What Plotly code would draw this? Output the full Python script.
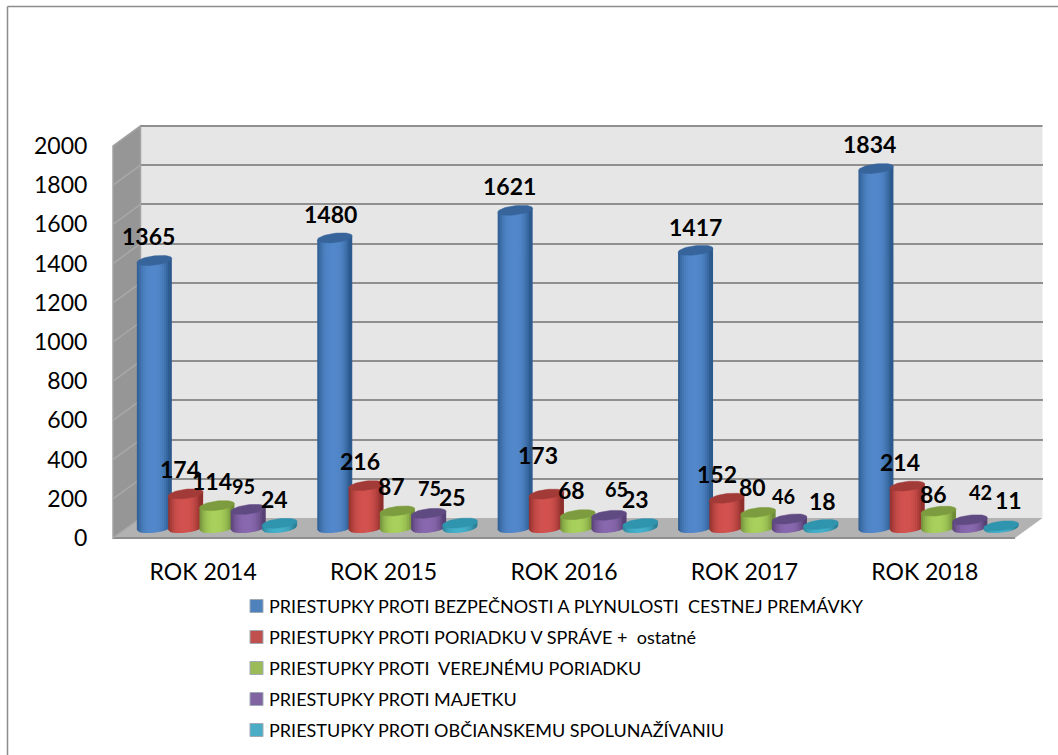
import math
import plotly.graph_objects as go

# ---------- data ----------
YEARS = ["ROK 2014", "ROK 2015", "ROK 2016", "ROK 2017", "ROK 2018"]
SERIES_NAMES = [
    "PRIESTUPKY PROTI BEZPEČNOSTI A PLYNULOSTI\u00a0 CESTNEJ PREMÁVKY",
    "PRIESTUPKY PROTI PORIADKU V SPRÁVE +\u00a0 ostatné",
    "PRIESTUPKY PROTI\u00a0 VEREJNÉMU PORIADKU",
    "PRIESTUPKY PROTI MAJETKU",
    "PRIESTUPKY PROTI OBČIANSKEMU SPOLUNAŽÍVANIU",
]
BEZPECNOST = [1365, 1480, 1621, 1417, 1834]
PORIADOK_SPRAVA = [174, 216, 173, 152, 214]
VEREJNY_PORIADOK = [114, 87, 68, 80, 86]
MAJETOK = [95, 75, 65, 46, 42]
SPOLUNAZIVANIE = [24, 25, 23, 18, 11]
ALL_SERIES = [BEZPECNOST, PORIADOK_SPRAVA, VEREJNY_PORIADOK, MAJETOK, SPOLUNAZIVANIE]
Y_TICKS = list(range(0, 2001, 200))

# ---------- styling / layout ----------
W, H = 1058, 755
COL_CENTER = ["#5288cb", "#d2524f", "#a8d05c", "#8868ae", "#45b0ca"]
COL_EDGE = ["#2d5a8e", "#8e2f2c", "#6f8c38", "#574073", "#2a8198"]
COL_CAP = ["#36649b", "#a23b38", "#7c9c3f", "#604a82", "#2f94ae"]
COL_SWATCH = ["#4f81bd", "#c0504d", "#9bbb59", "#8064a2", "#4bacc6"]

# manually placed data-label centres in the original chart (pixels), per series / year
LABEL_PX = [
    [(148, 236), (330, 214), (509, 186), (695, 227), (869, 144)],
    [(180, 469), (360, 461), (538, 455), (717, 474), (900, 462)],
    [(212, 481), (391, 486), (571, 490), (752, 487), (934, 494)],
    [(243, 486), (430, 488), (616, 489), (783, 496), (980, 492)],
    [(274, 499), (453, 497), (635, 499), (822, 501), (1009, 500)],
]
LABEL_SIZE = [
    [23, 23, 23, 23, 23],
    [23, 23, 23, 23, 23],
    [23, 23, 23, 23, 23],
    [20, 20, 20, 20, 20],
    [23, 23, 23, 23, 23],
]

FRONT_L, FRONT_R, FRONT_T, FRONT_B = 113, 1015, 146, 538
DX, DY = 27.5, 20
PX_PER_UNIT = (FRONT_B - FRONT_T) / 2000
CAT_W = (FRONT_R - FRONT_L) / 5
SER_STEP = 31.3
RX, RY, TILT = 17.5, 4.6, 2.0
BAR_ZERO = 528
BAR_T, BAR_B = 100, 565


def px(x):
    return x / W


def py(y):
    return 1 - y / H


fig = go.Figure()

# Back-wall grid (primary axes), drawn first
fig.add_trace(go.Scatter(x=[0], y=[0], xaxis="x", yaxis="y", mode="markers",
                         marker=dict(opacity=0), showlegend=False, hoverinfo="skip"))
# Front-plane axes with the tick labels
fig.add_trace(go.Scatter(x=[0], y=[0], xaxis="x2", yaxis="y2", mode="markers",
                         marker=dict(opacity=0), showlegend=False, hoverinfo="skip"))

# Cylinders (third axes)
N_STRIPS = 18


def strip_color(c1, c2, t):
    a = [int(c1[i:i + 2], 16) for i in (1, 3, 5)]
    b = [int(c2[i:i + 2], 16) for i in (1, 3, 5)]
    return "rgb(%d,%d,%d)" % tuple(round(a[k] + (b[k] - a[k]) * t) for k in range(3))


for s, values in enumerate(ALL_SERIES):
    xoff = (s - 2) * SER_STEP / CAT_W
    for k in range(N_STRIPS):
        u1 = -1 + 2 * k / N_STRIPS
        u2 = -1 + 2 * (k + 1) / N_STRIPS
        um = (u1 + u2) / 2
        t = 1 - min(1, abs(um + 0.08) / 0.92) ** 2.6
        xs, ys = [], []
        ue = min(1, u2 + 0.05)
        for g, v in enumerate(values):
            cx = g + xoff
            yb = lambda u: (TILT * u - RY * math.sqrt(max(0, 1 - u * u))) / PX_PER_UNIT
            yt = lambda u: v + TILT * u / PX_PER_UNIT
            xs += [cx + u1 * RX / CAT_W, cx + ue * RX / CAT_W, cx + ue * RX / CAT_W, cx + u1 * RX / CAT_W, cx + u1 * RX / CAT_W, None]
            ys += [yb(u1), yb(ue), yt(ue), yt(u1), yb(u1), None]
        fig.add_trace(go.Scatter(x=xs, y=ys, xaxis="x3", yaxis="y3", mode="lines", fill="toself",
                                 fillcolor=strip_color(COL_EDGE[s], COL_CENTER[s], t),
                                 line=dict(width=0), showlegend=False, hoverinfo="skip",
                                 name=SERIES_NAMES[s]))
    # caps
    xs, ys = [], []
    for g, v in enumerate(values):
        cx = g + xoff
        for i in range(49):
            a = 2 * math.pi * i / 48
            u, w = math.cos(a), math.sin(a)
            xs.append(cx + u * RX / CAT_W)
            ys.append(v + (TILT * u + RY * w) / PX_PER_UNIT)
        xs.append(None)
        ys.append(None)
    fig.add_trace(go.Scatter(x=xs, y=ys, xaxis="x3", yaxis="y3", mode="lines", fill="toself",
                             fillcolor=COL_CAP[s], line=dict(width=0.5, color=COL_CAP[s]),
                             showlegend=False, hoverinfo="skip", name=SERIES_NAMES[s]))


def poly(points, fill, line=None, lw=0):
    d = "M " + " L ".join(f"{px(a):.5f},{py(b):.5f}" for a, b in points) + " Z"
    return dict(type="path", path=d, xref="paper", yref="paper", layer="below",
                fillcolor=fill, line=dict(color=line or fill, width=lw))


def seg(a, b, c, d, color="#8c8c8c", lw=1.5):
    return dict(type="line", x0=px(a), y0=py(b), x1=px(c), y1=py(d), xref="paper", yref="paper",
                layer="below", line=dict(color=color, width=lw))


shapes = [
    seg(7.5, 6.5, 1058, 6.5),
    seg(7.5, 6.5, 7.5, 755),
    poly([(FRONT_L + DX, FRONT_T - DY), (FRONT_R + DX, FRONT_T - DY),
          (FRONT_R + DX, FRONT_B - DY), (FRONT_L + DX, FRONT_B - DY)], "#e6e6e6"),
    poly([(FRONT_L, FRONT_T), (FRONT_L + DX, FRONT_T - DY),
          (FRONT_L + DX, FRONT_B - DY), (FRONT_L, FRONT_B)], "#969696", "#a3a3a3", 1.5),
    poly([(FRONT_L, FRONT_B), (FRONT_R, FRONT_B), (FRONT_R + DX, FRONT_B - DY),
          (FRONT_L + DX, FRONT_B - DY)], "#b2b2b2"),
    seg(FRONT_L, FRONT_B, FRONT_R, FRONT_B, "#8e8e8e", 2),
    seg(FRONT_L + DX, FRONT_T - DY, FRONT_R + DX, FRONT_T - DY, "#8f8f8f", 2),
    seg(FRONT_L, FRONT_T, FRONT_L + DX, FRONT_T - DY, "#a3a3a3", 1.5),
]
for tick in Y_TICKS[:-1]:
    yy = FRONT_B - tick * PX_PER_UNIT
    shapes.append(seg(FRONT_L, yy, FRONT_L + DX, yy - DY, "#a8a8a8", 1.5))

annotations = []
for s, values in enumerate(ALL_SERIES):
    xoff = (s - 2) * SER_STEP / CAT_W
    for g, v in enumerate(values):
        anchor_x = FRONT_L + DX / 2 + CAT_W * (g + 0.5) + (s - 2) * SER_STEP
        anchor_y = BAR_ZERO - v * PX_PER_UNIT
        tx, ty = LABEL_PX[s][g]
        annotations.append(dict(x=g + xoff, y=v, xref="x3", yref="y3", text=str(v), showarrow=False,
                                xanchor="center", yanchor="middle",
                                xshift=tx - anchor_x, yshift=anchor_y - ty,
                                font=dict(family="Lato", size=LABEL_SIZE[s][g], color="black", weight="bold")))

# legend
LEG_Y0, LEG_STEP = 606, 31
for s, name in enumerate(SERIES_NAMES):
    y = LEG_Y0 + s * LEG_STEP
    shapes.append(dict(type="rect", xref="paper", yref="paper", layer="below",
                       x0=px(250), x1=px(263), y0=py(y + 6.5), y1=py(y - 6.5),
                       fillcolor=COL_SWATCH[s], line=dict(color="#a0aab4", width=1)))
    annotations.append(dict(x=px(267), y=py(y), xref="paper", yref="paper", text=name, showarrow=False,
                            xanchor="left", yanchor="middle",
                            font=dict(family="Lato", size=18, color="black")))

fig.update_layout(
    template="none",
    width=W, height=H, autosize=False,
    margin=dict(l=0, r=0, t=0, b=0, pad=0),
    paper_bgcolor="white", plot_bgcolor="rgba(0,0,0,0)",
    showlegend=False, shapes=shapes, annotations=annotations,
    font=dict(family="Lato", color="black"),
    # back wall grid
    xaxis=dict(domain=[px(FRONT_L + DX), px(FRONT_R + DX)], range=[0, 1], visible=False,
               fixedrange=True, automargin=False),
    yaxis=dict(domain=[py(FRONT_B - DY), py(FRONT_T - DY)], range=[0, 2000], tickvals=Y_TICKS,
               showgrid=True, gridcolor="#8f8f8f", gridwidth=2, zeroline=False, showticklabels=False,
               ticks="", showline=False, fixedrange=True, automargin=False),
    # front plane axes with labels
    xaxis2=dict(domain=[px(FRONT_L), px(FRONT_R)], range=[-0.5, 4.5], anchor="y2",
                tickvals=list(range(5)), ticktext=YEARS, showgrid=False, zeroline=False,
                ticks="outside", ticklen=13, tickcolor="rgba(0,0,0,0)", automargin=False,
                tickfont=dict(family="Lato", size=23, color="black"), fixedrange=True),
    yaxis2=dict(domain=[py(FRONT_B), py(FRONT_T)], range=[0, 2000], anchor="x2",
                tickvals=Y_TICKS, showgrid=False, zeroline=False,
                ticks="outside", ticklen=20, tickcolor="rgba(0,0,0,0)", automargin=False,
                tickfont=dict(family="Lato", size=23, color="black"), fixedrange=True),
    # cylinders
    xaxis3=dict(domain=[px(FRONT_L + DX / 2), px(FRONT_R + DX / 2)], range=[-0.5, 4.5], anchor="y3",
                visible=False, fixedrange=True, automargin=False),
    yaxis3=dict(domain=[py(BAR_B), py(BAR_T)],
                range=[(BAR_ZERO - BAR_B) / PX_PER_UNIT, (BAR_ZERO - BAR_T) / PX_PER_UNIT],
                anchor="x3", visible=False, fixedrange=True, automargin=False),
)

fig.write_html("out.html", config=dict(displayModeBar=False),
               post_script="document.body.style.margin='0';document.body.style.overflow='hidden';")
